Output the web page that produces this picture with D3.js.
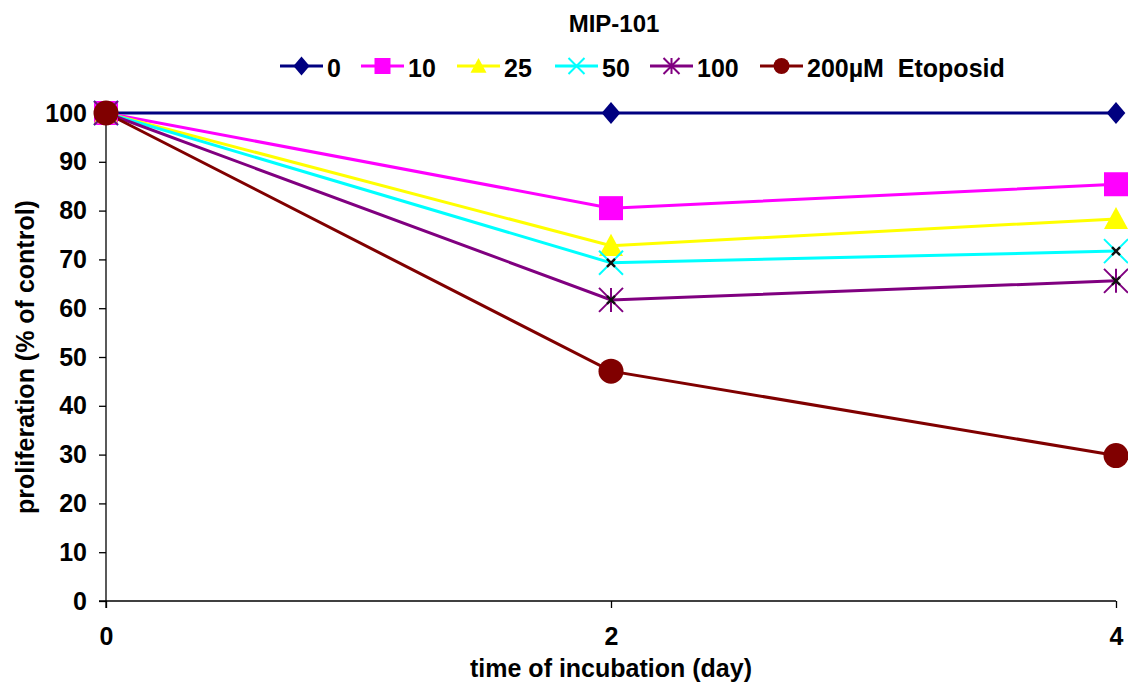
<!DOCTYPE html>
<html><head><meta charset="utf-8">
<script src="https://cdn.jsdelivr.net/npm/d3@7"></script>
<style>body{margin:0;background:#fff}svg{display:block;font-family:"Liberation Sans",Arial,sans-serif;font-weight:bold}</style>
</head><body><svg id="c" width="1128" height="686"></svg>
<script>
const days = [0, 2, 4];
const seriesNames = ["0", "10", "25", "50", "100", "200µM  Etoposid"];
const s0 = [100, 100, 100];
const s10 = [100, 80.5, 85.4];
const s25 = [100, 72.8, 78.3];
const s50 = [100, 69.3, 71.7];
const s100 = [100, 61.7, 65.6];
const s200 = [100, 47.1, 29.8];
const yTicks = [0,10,20,30,40,50,60,70,80,90,100];
const xTicks = [0,2,4];
const colors = ["#000080","#FF00FF","#FFFF00","#00FFFF","#800080","#800000"];
const shapes = ["diamond","square","triangle","x","star","circle"];
const values = [s0,s10,s25,s50,s100,s200];

const svg = d3.select("#c");
const x = d3.scaleLinear().domain([0,4]).range([106,1116]);
const y = d3.scaleLinear().domain([0,100]).range([601,113]);
const FS = 25;

svg.append("text").attr("x",614).attr("y",32).attr("text-anchor","middle").attr("font-size",24).text("MIP-101");

// axes
const ya = svg.append("g").attr("transform","translate(106,0)").call(d3.axisLeft(y).tickValues(yTicks).tickFormat(d3.format("d")).tickSize(7).tickPadding(12));
ya.select(".domain").attr("d","M0,113V608");
const xa = svg.append("g").attr("transform","translate(0,601)").call(d3.axisBottom(x).tickValues(xTicks).tickFormat(d3.format("d")).tickSize(7).tickPadding(19));
xa.select(".domain").attr("d","M99,0H1116");
svg.selectAll(".tick text").attr("font-size",FS).attr("font-family","Liberation Sans, Arial").attr("font-weight","bold").attr("fill","#000");
svg.selectAll(".domain, .tick line").attr("stroke","#000").attr("stroke-width",1.3);

svg.append("text").attr("x",611).attr("y",677).attr("text-anchor","middle").attr("font-size",FS).text("time of incubation (day)");
svg.append("text").attr("transform","translate(34,357) rotate(-90)").attr("text-anchor","middle").attr("font-size",FS).text("proliferation (% of control)");

function drawMarker(g, shape, color, cx, cy, s, artifact){
  const h = s/2;
  if(shape==="diamond") g.append("path").attr("d",`M${cx},${cy-h}L${cx+h*0.85},${cy}L${cx},${cy+h}L${cx-h*0.85},${cy}Z`).attr("fill",color);
  else if(shape==="square") g.append("rect").attr("x",cx-h).attr("y",cy-h).attr("width",s).attr("height",s).attr("fill",color);
  else if(shape==="triangle") g.append("path").attr("d",`M${cx},${cy-h}L${cx+h},${cy+h*0.85}L${cx-h},${cy+h*0.85}Z`).attr("fill",color);
  else if(shape==="circle") g.append("circle").attr("cx",cx).attr("cy",cy).attr("r",h).attr("fill",color);
  else if(shape==="x"||shape==="star"){
    let d = `M${cx-h},${cy-h}L${cx+h},${cy+h}M${cx-h},${cy+h}L${cx+h},${cy-h}`;
    if(shape==="star") d += `M${cx},${cy-h}L${cx},${cy+h}`;
    g.append("path").attr("d",d).attr("stroke",color).attr("stroke-width",2);
    if(artifact) g.append("path").attr("d",`M${cx-4},${cy-4}L${cx+4},${cy+4}M${cx-4},${cy+4}L${cx+4},${cy-4}`).attr("stroke","#111").attr("stroke-width",2.4);
  }
}

const line = d3.line().x((d,i)=>x(days[i])).y(d=>y(d));
values.forEach((vals,k)=>{
  svg.append("path").attr("d",line(vals)).attr("fill","none").attr("stroke",colors[k]).attr("stroke-width",3);
});
values.forEach((vals,k)=>{
  const g = svg.append("g");
  const sz = shapes[k]==="diamond"?22:(shapes[k]==="circle"?25:24);
  vals.forEach((v,i)=>drawMarker(g,shapes[k],colors[k],x(days[i]),y(v),sz,i>0));
});

// legend
const legendX = [280,361,457,555,650,760];
seriesNames.forEach((n,k)=>{
  const g = svg.append("g");
  const lx = legendX[k], ly = 66;
  g.append("line").attr("x1",lx).attr("x2",lx+43).attr("y1",ly).attr("y2",ly).attr("stroke",colors[k]).attr("stroke-width",3);
  drawMarker(g,shapes[k],colors[k],lx+21.5,ly,shapes[k]==="diamond"?19:16,false);
  g.append("text").attr("x",lx+47).attr("y",ly+11).attr("font-size",FS).style("white-space","pre").text(n);
});
</script></body></html>
